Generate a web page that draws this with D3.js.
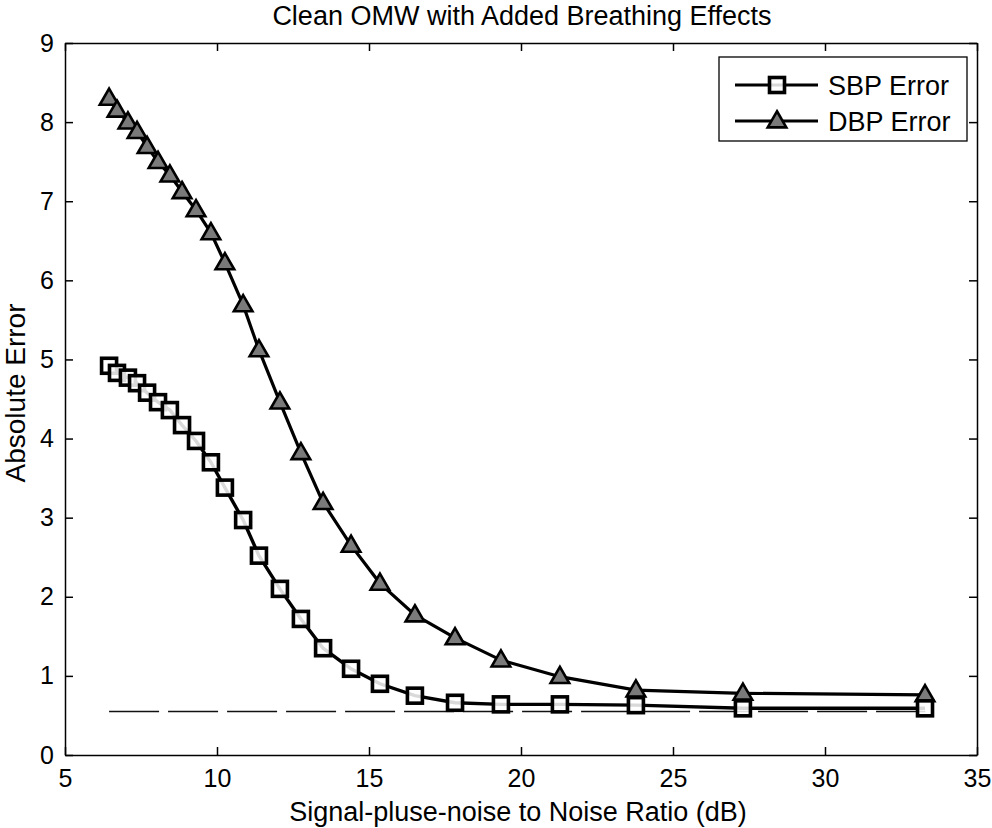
<!DOCTYPE html>
<html>
<head>
<meta charset="utf-8">
<script src="https://cdn.jsdelivr.net/npm/d3@7"></script>
<style>
  html, body { margin: 0; padding: 0; background: #fff; }
  svg { display: block; }
  text { font-family: "Liberation Sans", Arial, Helvetica, sans-serif; fill: #000; }
</style>
</head>
<body>
<svg id="chart" width="992" height="828"></svg>
<script>
const title = "Clean OMW with Added Breathing Effects";
const xLabel = "Signal-pluse-noise to Noise Ratio (dB)";
const yLabel = "Absolute Error";
const seriesNames = ["SBP Error", "DBP Error"];
const snr = [6.45, 6.71, 7.07, 7.37, 7.70, 8.06, 8.45, 8.85, 9.31, 9.80, 10.26, 10.86, 11.38, 12.07, 12.76, 13.49, 14.41, 15.36, 16.51, 17.83, 19.34, 21.28, 23.78, 27.30, 33.29];
const sbpError = [4.92, 4.83, 4.77, 4.70, 4.58, 4.46, 4.36, 4.17, 3.97, 3.70, 3.38, 2.97, 2.52, 2.10, 1.72, 1.35, 1.09, 0.90, 0.75, 0.66, 0.64, 0.64, 0.63, 0.59, 0.59];
const dbpError = [8.30, 8.15, 8.00, 7.88, 7.69, 7.50, 7.33, 7.12, 6.89, 6.60, 6.22, 5.69, 5.12, 4.46, 3.82, 3.19, 2.65, 2.17, 1.77, 1.48, 1.20, 0.99, 0.82, 0.78, 0.76];
const refLineX = [6.45, 33.3];
const refLineY = 0.55;
const xTicks = [5, 10, 15, 20, 25, 30, 35];
const yTicks = [0, 1, 2, 3, 4, 5, 6, 7, 8, 9];

const svg = d3.select("#chart");
const L = 65, R = 977, T = 43, B = 755;
const x = d3.scaleLinear().domain([5, 35]).range([L, R]);
const y = d3.scaleLinear().domain([0, 9]).range([B, T]);

// axes (ticks inside, box)
const tickLen = 8;
const gx = svg.append("g").attr("transform", `translate(0,${B})`)
  .call(d3.axisBottom(x).tickValues(xTicks).tickSizeInner(-tickLen).tickSizeOuter(0).tickPadding(14));
const gxt = svg.append("g").attr("transform", `translate(0,${T})`)
  .call(d3.axisTop(x).tickValues(xTicks).tickSizeInner(-tickLen).tickSizeOuter(0).tickFormat(""));
const gy = svg.append("g").attr("transform", `translate(${L},0)`)
  .call(d3.axisLeft(y).tickValues(yTicks).tickSizeInner(-tickLen).tickSizeOuter(0).tickPadding(11));
const gyr = svg.append("g").attr("transform", `translate(${R},0)`)
  .call(d3.axisRight(y).tickValues(yTicks).tickSizeInner(-tickLen).tickSizeOuter(0).tickFormat(""));
[gx, gxt, gy, gyr].forEach(g => {
  g.selectAll("path.domain").attr("stroke", "#000").attr("stroke-width", 1.5);
  g.selectAll(".tick line").attr("stroke", "#000").attr("stroke-width", 1.5);
  g.selectAll(".tick text").style("font-size", "25px")
    .style("font-family", '"Liberation Sans", Arial, sans-serif').attr("fill", "#000");
});

// reference dashed line
svg.append("line")
  .attr("x1", x(refLineX[0])).attr("x2", x(refLineX[1]))
  .attr("y1", y(refLineY)).attr("y2", y(refLineY))
  .attr("stroke", "#111").attr("stroke-width", 1.6).attr("stroke-dasharray", "50,9");

const line = d3.line().x(d => x(d[0])).y(d => y(d[1]));
const sbpPts = snr.map((s, i) => [s, sbpError[i]]);
const dbpPts = snr.map((s, i) => [s, dbpError[i]]);

function drawSquare(g, cx, cy) {
  g.append("rect").attr("x", cx - 7.5).attr("y", cy - 7.5).attr("width", 15).attr("height", 15)
    .attr("fill", "#fff").attr("fill-opacity", 0.85).attr("stroke", "#000").attr("stroke-width", 3.6);
}
const tri = d3.symbol().type(d3.symbolTriangle).size(150);
function drawTriangle(g, cx, cy) {
  g.append("path").attr("d", tri()).attr("transform", `translate(${cx},${cy + 1})`)
    .attr("fill", "#7a7a7a").attr("stroke", "#000").attr("stroke-width", 2.6).attr("stroke-linejoin", "miter");
}

svg.append("path").datum(dbpPts).attr("d", line)
  .attr("fill", "none").attr("stroke", "#000").attr("stroke-width", 3.2);
const gTri = svg.append("g");
dbpPts.forEach(p => drawTriangle(gTri, x(p[0]), y(p[1])));

svg.append("path").datum(sbpPts).attr("d", line)
  .attr("fill", "none").attr("stroke", "#000").attr("stroke-width", 3.4);
const gSq = svg.append("g");
sbpPts.forEach(p => drawSquare(gSq, x(p[0]), y(p[1])));

// legend
const lg = svg.append("g");
lg.append("rect").attr("x", 719).attr("y", 57).attr("width", 248).attr("height", 84)
  .attr("fill", "#fff").attr("stroke", "#000").attr("stroke-width", 1.3);
const legY = [85, 121];
[0, 1].forEach(i => {
  lg.append("line").attr("x1", 735).attr("x2", 818).attr("y1", legY[i]).attr("y2", legY[i])
    .attr("stroke", "#000").attr("stroke-width", 3.2);
  if (i === 0) drawSquare(lg, 777, legY[i]); else drawTriangle(lg, 777, legY[i]);
  lg.append("text").attr("x", 828).attr("y", legY[i]).attr("dy", "0.36em")
    .style("font-size", "27px").text(seriesNames[i]);
});

// titles
svg.append("text").attr("x", 522).attr("y", 25).attr("text-anchor", "middle")
  .style("font-size", "27px").text(title);
svg.append("text").attr("x", 518).attr("y", 821).attr("text-anchor", "middle")
  .style("font-size", "27px").text(xLabel);
svg.append("text").attr("transform", `translate(25,393) rotate(-90)`)
  .attr("text-anchor", "middle").style("font-size", "28px").text(yLabel);
</script>
</body>
</html>
